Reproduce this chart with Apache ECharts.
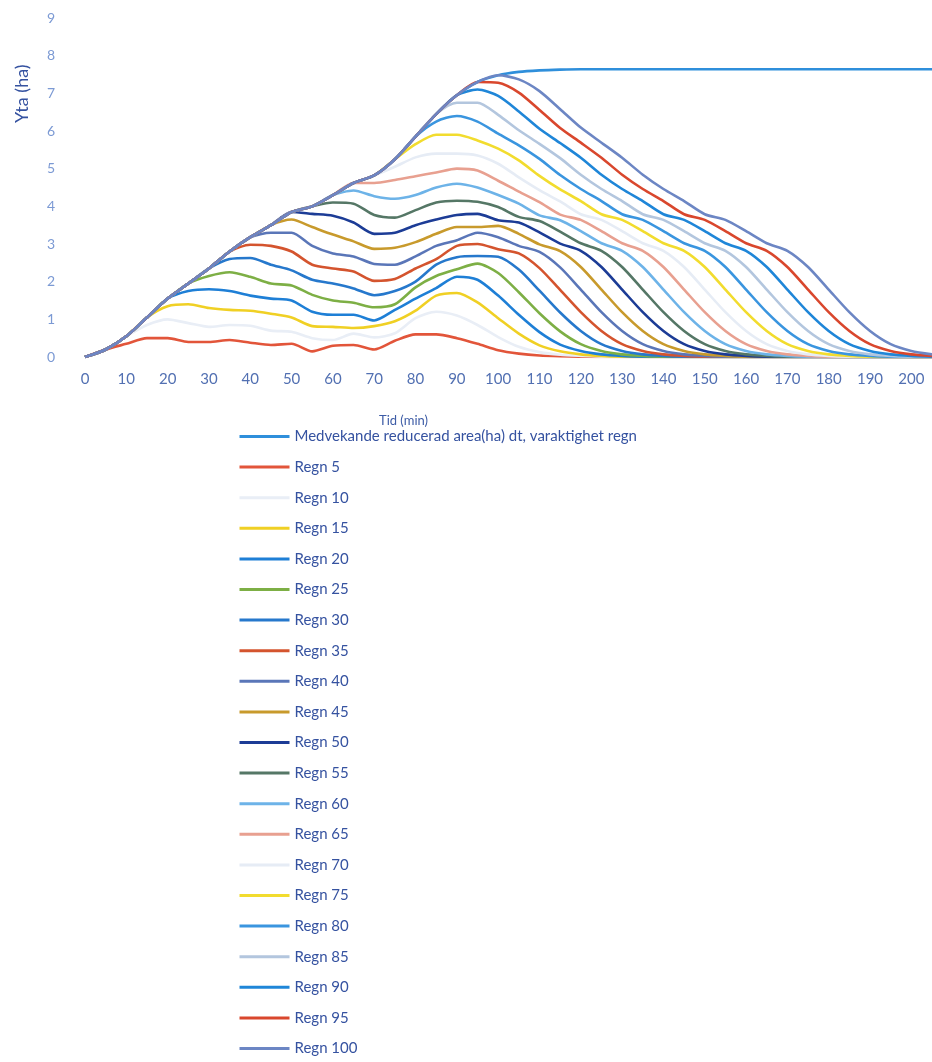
<!DOCTYPE html>
<html>
<head>
<meta charset="utf-8">
<script src="https://cdn.jsdelivr.net/npm/echarts@6/dist/echarts.min.js"></script>
<style>
html,body{margin:0;padding:0;background:#fff;}
#c{width:932px;height:1062px;}
</style>
</head>
<body>
<div id="c"></div>
<script>
// time axis (min)
var times = [0,5,10,15,20,25,30,35,40,45,50,55,60,65,70,75,80,85,90,95,100,105,110,115,120,125,130,135,140,145,150,155,160,165,170,175,180,185,190,195,200,205];
var xTicks = [0,10,20,30,40,50,60,70,80,90,100,110,120,130,140,150,160,170,180,190,200];
var yTicks = [0,1,2,3,4,5,6,7,8,9];

var seriesNames = ["Medvekande reducerad area(ha) dt, varaktighet regn","Regn 5","Regn 10","Regn 15","Regn 20","Regn 25","Regn 30","Regn 35","Regn 40","Regn 45","Regn 50","Regn 55","Regn 60","Regn 65","Regn 70","Regn 75","Regn 80","Regn 85","Regn 90","Regn 95","Regn 100"];

var medvekande = [0,0.20,0.55,1.05,1.55,1.95,2.35,2.80,3.18,3.50,3.85,4.00,4.30,4.62,4.82,5.25,5.85,6.45,6.95,7.30,7.48,7.57,7.61,7.63,7.64,7.64,7.64,7.64,7.64,7.64,7.64,7.64,7.64,7.64,7.64,7.64,7.64,7.64,7.64,7.64,7.64,7.64];
var regn5 = [0,0.20,0.35,0.50,0.50,0.40,0.40,0.45,0.38,0.32,0.35,0.15,0.30,0.32,0.20,0.43,0.60,0.60,0.50,0.35,0.18,0.09,0.04,0.02,0.01,0,0,0,0,0,0,0,0,0,0,0,0,0,0,0,0,0];
var regn10 = [0,0.20,0.55,0.85,1.00,0.90,0.80,0.85,0.83,0.70,0.67,0.50,0.45,0.62,0.52,0.63,1.03,1.20,1.10,0.85,0.53,0.27,0.13,0.06,0.03,0.01,0,0,0,0,0,0,0,0,0,0,0,0,0,0,0,0];
var regn15 = [0,0.20,0.55,1.05,1.35,1.40,1.30,1.25,1.23,1.15,1.05,0.82,0.80,0.77,0.82,0.95,1.23,1.63,1.70,1.45,1.03,0.62,0.31,0.15,0.07,0.03,0.01,0,0,0,0,0,0,0,0,0,0,0,0,0,0,0];
var regn20 = [0,0.20,0.55,1.05,1.55,1.75,1.80,1.75,1.63,1.55,1.50,1.20,1.12,1.12,0.97,1.25,1.55,1.83,2.13,2.05,1.63,1.12,0.66,0.33,0.16,0.07,0.03,0.01,0,0,0,0,0,0,0,0,0,0,0,0,0,0];
var regn25 = [0,0.20,0.55,1.05,1.55,1.95,2.15,2.25,2.13,1.95,1.90,1.65,1.50,1.44,1.32,1.40,1.85,2.15,2.33,2.48,2.23,1.72,1.16,0.68,0.34,0.16,0.07,0.03,0.01,0,0,0,0,0,0,0,0,0,0,0,0,0];
var regn30 = [0,0.20,0.55,1.05,1.55,1.95,2.35,2.60,2.63,2.45,2.30,2.05,1.95,1.82,1.64,1.75,2.00,2.45,2.65,2.68,2.66,2.32,1.76,1.18,0.69,0.34,0.16,0.07,0.03,0.01,0,0,0,0,0,0,0,0,0,0,0,0];
var regn35 = [0,0.20,0.55,1.05,1.55,1.95,2.35,2.80,2.98,2.95,2.80,2.45,2.35,2.27,2.02,2.07,2.35,2.60,2.95,3.00,2.86,2.75,2.36,1.78,1.19,0.69,0.34,0.16,0.07,0.03,0.01,0,0,0,0,0,0,0,0,0,0,0];
var regn40 = [0,0.20,0.55,1.05,1.55,1.95,2.35,2.80,3.18,3.30,3.30,2.95,2.75,2.67,2.47,2.45,2.67,2.95,3.10,3.30,3.18,2.95,2.79,2.38,1.79,1.19,0.69,0.34,0.16,0.07,0.03,0.01,0,0,0,0,0,0,0,0,0,0];
var regn45 = [0,0.20,0.55,1.05,1.55,1.95,2.35,2.80,3.18,3.50,3.65,3.45,3.25,3.07,2.87,2.90,3.05,3.27,3.45,3.45,3.48,3.27,2.99,2.81,2.39,1.79,1.19,0.69,0.34,0.16,0.07,0.03,0.01,0,0,0,0,0,0,0,0,0];
var regn50 = [0,0.20,0.55,1.05,1.55,1.95,2.35,2.80,3.18,3.50,3.85,3.80,3.75,3.57,3.27,3.30,3.50,3.65,3.77,3.80,3.63,3.57,3.31,3.01,2.82,2.39,1.79,1.19,0.69,0.34,0.16,0.07,0.03,0.01,0,0,0,0,0,0,0,0];
var regn55 = [0,0.20,0.55,1.05,1.55,1.95,2.35,2.80,3.18,3.50,3.85,4.00,4.10,4.07,3.77,3.70,3.90,4.10,4.15,4.12,3.98,3.72,3.61,3.33,3.02,2.82,2.39,1.79,1.19,0.69,0.34,0.16,0.07,0.03,0.01,0,0,0,0,0,0,0];
var regn60 = [0,0.20,0.55,1.05,1.55,1.95,2.35,2.80,3.18,3.50,3.85,4.00,4.30,4.42,4.27,4.20,4.30,4.50,4.60,4.50,4.30,4.07,3.76,3.63,3.34,3.02,2.82,2.39,1.79,1.19,0.69,0.34,0.16,0.07,0.03,0.01,0,0,0,0,0,0];
var regn65 = [0,0.20,0.55,1.05,1.55,1.95,2.35,2.80,3.18,3.50,3.85,4.00,4.30,4.62,4.62,4.70,4.80,4.90,5.00,4.95,4.68,4.39,4.11,3.78,3.64,3.34,3.02,2.82,2.39,1.79,1.19,0.69,0.34,0.16,0.07,0.03,0.01,0,0,0,0,0];
var regn70 = [0,0.20,0.55,1.05,1.55,1.95,2.35,2.80,3.18,3.50,3.85,4.00,4.30,4.62,4.82,5.05,5.30,5.40,5.40,5.35,5.13,4.77,4.43,4.13,3.79,3.64,3.34,3.02,2.82,2.39,1.79,1.19,0.69,0.34,0.16,0.07,0.03,0.01,0,0,0,0];
var regn75 = [0,0.20,0.55,1.05,1.55,1.95,2.35,2.80,3.18,3.50,3.85,4.00,4.30,4.62,4.82,5.25,5.65,5.90,5.90,5.75,5.53,5.22,4.81,4.45,4.14,3.79,3.64,3.34,3.02,2.82,2.39,1.79,1.19,0.69,0.34,0.16,0.07,0.03,0.01,0,0,0];
var regn80 = [0,0.20,0.55,1.05,1.55,1.95,2.35,2.80,3.18,3.50,3.85,4.00,4.30,4.62,4.82,5.25,5.85,6.25,6.40,6.25,5.93,5.62,5.26,4.83,4.46,4.14,3.79,3.64,3.34,3.02,2.82,2.39,1.79,1.19,0.69,0.34,0.16,0.07,0.03,0.01,0,0];
var regn85 = [0,0.20,0.55,1.05,1.55,1.95,2.35,2.80,3.18,3.50,3.85,4.00,4.30,4.62,4.82,5.25,5.85,6.45,6.75,6.75,6.43,6.02,5.66,5.28,4.84,4.46,4.14,3.79,3.64,3.34,3.02,2.82,2.39,1.79,1.19,0.69,0.34,0.16,0.07,0.03,0.01,0];
var regn90 = [0,0.20,0.55,1.05,1.55,1.95,2.35,2.80,3.18,3.50,3.85,4.00,4.30,4.62,4.82,5.25,5.85,6.45,6.95,7.10,6.93,6.52,6.06,5.68,5.29,4.84,4.46,4.14,3.79,3.64,3.34,3.02,2.82,2.39,1.79,1.19,0.69,0.34,0.16,0.07,0.03,0.01];
var regn95 = [0,0.20,0.55,1.05,1.55,1.95,2.35,2.80,3.18,3.50,3.85,4.00,4.30,4.62,4.82,5.25,5.85,6.45,6.95,7.30,7.28,7.02,6.56,6.08,5.69,5.29,4.84,4.46,4.14,3.79,3.64,3.34,3.02,2.82,2.39,1.79,1.19,0.69,0.34,0.16,0.07,0.03];
var regn100 = [0,0.20,0.55,1.05,1.55,1.95,2.35,2.80,3.18,3.50,3.85,4.00,4.30,4.62,4.82,5.25,5.85,6.45,6.95,7.30,7.48,7.37,7.06,6.58,6.09,5.69,5.29,4.84,4.46,4.14,3.79,3.64,3.34,3.02,2.82,2.39,1.79,1.19,0.69,0.34,0.16,0.07];

var allValues = [medvekande,regn5,regn10,regn15,regn20,regn25,regn30,regn35,regn40,regn45,regn50,regn55,regn60,regn65,regn70,regn75,regn80,regn85,regn90,regn95,regn100];

var colors = ["#2F8FDB","#E2553A","#E9EEF6","#F0D024","#1E7FD6","#7DAF45","#2678CC","#D4542E","#5A76B8","#C89A2C","#1C3C96","#557766","#6DB3E8","#E8A090","#E6ECF5","#F2DC2E","#3A95DF","#B3C6DE","#1F86D8","#D9472D","#6C86C4"];

var FONT = "Lato, 'Open Sans', sans-serif";

var series = seriesNames.map(function(name, s){
  return {
    name: name,
    type: 'line',
    symbol: 'none',
    smooth: 0.25,
    data: times.map(function(t, i){ return [t, allValues[s][i]]; }),
    lineStyle: {color: colors[s], width: 2.6},
    itemStyle: {color: colors[s]},
    emphasis: {disabled: true},
    animation: false
  };
});

var chart = echarts.init(document.getElementById('c'), null, {renderer: 'canvas'});
chart.setOption({
  backgroundColor: '#ffffff',
  animation: false,
  grid: {left: 85, top: 18, width: 849, height: 339, containLabel: false},
  xAxis: {
    type: 'value', min: 0, max: 205, interval: 10,
    axisLine: {show: false}, axisTick: {show: false}, splitLine: {show: false},
    axisLabel: {
      margin: 15, color: '#5270B2', fontSize: 15, fontFamily: FONT,
      showMaxLabel: false,
      formatter: function(v){ return xTicks.indexOf(v) >= 0 ? String(v) : ''; }
    }
  },
  yAxis: {
    type: 'value', min: 0, max: 9, interval: 1,
    axisLine: {show: false}, axisTick: {show: false}, splitLine: {show: false},
    axisLabel: {
      margin: 30, color: '#7C9AD4', fontSize: 14, fontFamily: FONT,
      formatter: function(v){ return yTicks.indexOf(v) >= 0 ? String(v) : ''; }
    }
  },
  legend: {
    orient: 'vertical', left: 238, top: 429, height: 660, padding: 0,
    itemWidth: 50, itemHeight: 14, itemGap: 15.6,
    selectedMode: false,
    itemStyle: {opacity: 0},
    lineStyle: {width: 3},
    textStyle: {color: '#3552A0', fontSize: 15, fontFamily: FONT},
    data: seriesNames
  },
  graphic: [
    {type: 'text', left: 379, top: 414, style: {text: 'Tid (min)', fill: '#3D5CA6', font: '13px ' + FONT}},
    {type: 'text', x: 13, y: 123, rotation: Math.PI/2, style: {text: 'Yta (ha)', fill: '#3552A0', font: '18px ' + FONT}}
  ],
  series: series
});
</script>
</body>
</html>
